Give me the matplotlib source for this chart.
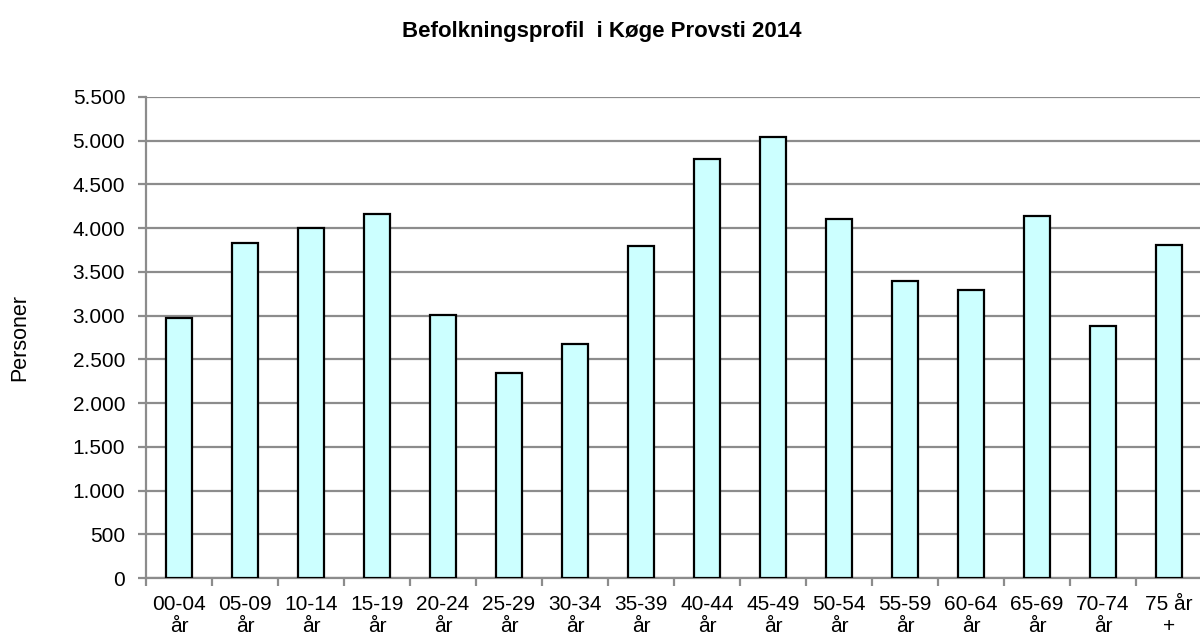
#!/usr/bin/env python3

import numpy as np
import matplotlib.pyplot as plt

categories = ['00-04\når', '05-09\når', '10-14\når', '15-19\når', '20-24\når',
              '25-29\når', '30-34\når', '35-39\når', '40-44\når', '45-49\når',
              '50-54\når', '55-59\når', '60-64\når', '65-69\når', '70-74\når',
              '75 år\n+']
personer = [2975, 3830, 4005, 4165, 3005, 2345, 2675, 3795,
            4795, 5045, 4110, 3400, 3295, 4140, 2880, 3810]
yticks = np.arange(0, 5501, 500)
ylabels = ['{:,}'.format(v).replace(',', '.') for v in yticks]


def main():
    plt.rcParams['font.family'] = ['Liberation Sans', 'DejaVu Sans']
    fig = plt.figure(figsize=(12, 6.36), dpi=100)
    ax = fig.add_axes([146 / 1200, 1 - 578 / 636, 1056 / 1200, (578 - 97) / 636])

    x = np.arange(len(categories))
    ax.bar(x, personer, width=0.4, color='#CCFFFF', edgecolor='black',
           linewidth=1.6, zorder=3)

    ax.set_xlim(-0.5, len(categories) - 0.5)
    ax.set_ylim(0, 5500)
    ax.set_yticks(yticks)
    ax.set_yticklabels(ylabels, fontsize=15)
    ax.yaxis.grid(True, color='#8c8c8c', linewidth=1.6, zorder=0)

    ax.set_xticks(np.arange(len(categories) + 1) - 0.5)
    ax.set_xticklabels([])
    ax.set_xticks(x, minor=True)
    ax.set_xticklabels(categories, minor=True, fontsize=15, linespacing=1.25)
    ax.tick_params(axis='x', which='minor', length=0, pad=12)
    ax.tick_params(axis='x', which='major', length=6, width=1.6, color='#8c8c8c')
    ax.tick_params(axis='y', length=6, width=1.6, color='#8c8c8c', pad=9)

    for side in ['top', 'right']:
        ax.spines[side].set_visible(False)
    for side in ['left', 'bottom']:
        ax.spines[side].set_color('#8c8c8c')
        ax.spines[side].set_linewidth(1.6)

    fig.text(20 / 1200, 1 - 337 / 636, 'Personer', rotation=90,
             ha='center', va='center', fontsize=15.5)
    fig.text(602 / 1200, 1 - 31 / 636, 'Befolkningsprofil  i Køge Provsti 2014',
             ha='center', va='center', fontsize=16, fontweight='bold')

    fig.savefig('out.png', dpi=100)


if __name__ == "__main__":
    main()
